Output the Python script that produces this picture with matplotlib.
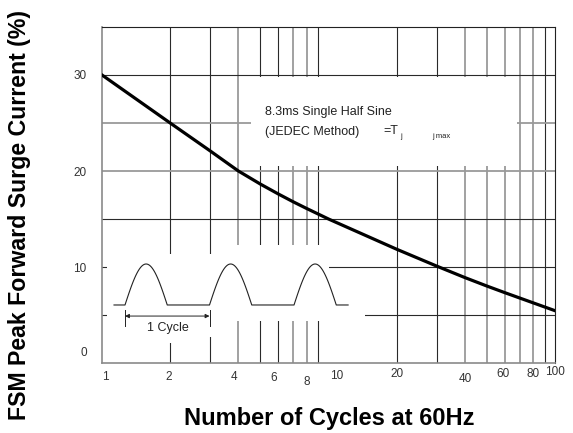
import numpy as np
import matplotlib.pyplot as plt
from matplotlib.patches import Rectangle
from matplotlib.transforms import ScaledTranslation

plt.rcParams['font.family'] = ['Liberation Sans', 'DejaVu Sans']

# curve
cycles = [1, 2, 3, 4, 5, 6, 7, 8, 9, 10, 20, 30, 40, 50, 60, 80, 100]
surge = [30, 25, 22.1, 20, 18.64, 17.61, 16.78, 16.1, 15.52, 15.0,
         11.85, 10.1, 8.9, 8.02, 7.33, 6.27, 5.45]

xticks = [1, 2, 4, 6, 8, 10, 20, 40, 60, 80, 100]
yticks = [0, 10, 20, 30]

vgrid = [2, 3, 4, 5, 6, 7, 8, 9, 20, 30, 40, 50, 60, 70, 80, 90]
vgrid_grey = [4, 7, 8, 40, 50, 60, 70, 80]
hgrid = [5, 10, 15, 20, 25, 30]
hgrid_grey = [20, 25]

W, H = 573, 433
fig = plt.figure(figsize=(W / 100, H / 100), dpi=100)
ax = fig.add_axes([102 / W, 70 / H, 453 / W, 336 / H])
ax.set_xscale('log')
ax.set_xlim(1, 100)
ax.set_ylim(0, 35)

# pixel overlay for the decorations
px = fig.add_axes([0, 0, 1, 1], zorder=5)
px.set_xlim(0, W)
px.set_ylim(H, 0)
px.axis('off')

for v in vgrid:
    grey = v in vgrid_grey
    ax.axvline(v, color='#9a9a9a' if grey else '#2a2a2a', lw=1.3 if grey else 0.8, zorder=1)
for h in hgrid:
    grey = h in hgrid_grey
    ax.axhline(h, color='#9a9a9a' if grey else '#2a2a2a', lw=1.3 if grey else 0.8, zorder=1)

# white areas that break the grid (text box, waveform sketch)
masks = [(251, 77, 517, 166), (107, 254, 327, 321), (230, 245, 329, 321),
         (327, 290, 365, 321), (150, 321, 215, 337), (150, 321, 180, 343)]
for x0, y0, x1, y1 in masks:
    ax.add_patch(Rectangle((x0, y0), x1 - x0, y1 - y0, transform=px.transData,
                           facecolor='white', edgecolor='none', zorder=1.5))

ax.plot(cycles, surge, color='black', lw=2.3, zorder=3, solid_joinstyle='round')

for s in ['top', 'right']:
    ax.spines[s].set_color('#222222')
    ax.spines[s].set_linewidth(0.8)
for s in ['left', 'bottom']:
    ax.spines[s].set_color('#8a8a8a')
    ax.spines[s].set_linewidth(1.2)

ax.set_xticks(xticks)
ax.set_xticklabels([str(t) for t in xticks])
ax.xaxis.set_minor_locator(plt.NullLocator())
ax.set_yticks(yticks)
ax.set_yticklabels([str(t) for t in yticks])
ax.tick_params(length=0, labelsize=8.5, labelcolor='#333333')
ax.tick_params(axis='x', pad=6)
ax.tick_params(axis='y', pad=11)

# small nudges so the tick labels sit like in the scan (pixels, y down)
xoff = [(3, 0), (-1, 0), (-4, 0), (-5, 1), (0, 5), (8, -1), (0, -3),
        (0, 2), (-2, -3), (0, -3), (0, -5)]
for tick, (dx, dy) in zip(ax.xaxis.get_major_ticks(), xoff):
    lab = tick.label1
    lab.set_transform(lab.get_transform() + ScaledTranslation(dx / 100, -dy / 100, fig.dpi_scale_trans))
zlab = ax.yaxis.get_major_ticks()[0].label1
zlab.set_transform(zlab.get_transform() + ScaledTranslation(0, 11 / 100, fig.dpi_scale_trans))

fig.text(329 / W, 1 - 418 / H, 'Number of Cycles at 60Hz', ha='center', va='center',
         fontsize=17, fontweight='bold')
fig.text(20 / W, 1 - 215 / H, 'FSM Peak Forward Surge Current (%)', ha='center', va='center',
         rotation=90, fontsize=16.7, fontweight='bold')

# box text
px.text(265, 112, '8.3ms Single Half Sine', fontsize=9, va='center', color='#222222')
px.text(265, 132, '(JEDEC Method)', fontsize=9, va='center', color='#222222')
px.text(383, 131, '=T', fontsize=9, va='center', color='#222222')
px.text(400, 136, 'j', fontsize=5.5, va='center', color='#222222')
px.text(432, 137, 'j max', fontsize=5.5, va='center', color='#222222')

# waveform sketch, x in cycles
wav = fig.add_axes([107 / W, (H - 340) / H, 258 / W, 90 / H], zorder=4)
wav.set_xlim(-0.213, 2.84)
wav.set_ylim(-0.854, 1.341)
wav.axis('off')
tx, ty = [-0.13], [0.0]
for k in range(3):
    t = np.linspace(0, 0.5, 40)
    tx += list(k + t)
    ty += list(np.sin(2 * np.pi * t))
    tx.append(k + 1.0 if k < 2 else 2.64)
    ty.append(0.0)
wav.plot(tx, ty, color='#222222', lw=0.8)
for x in [0, 1]:
    wav.plot([x, x], [-0.12, -0.51], color='#222222', lw=0.7)
wav.annotate('', xy=(1, -0.27), xytext=(0, -0.27),
             arrowprops=dict(arrowstyle='<|-|>', color='#222222', lw=0.7,
                             mutation_scale=6, shrinkA=0, shrinkB=0))
wav.text(0.51, -0.57, '1 Cycle', ha='center', va='center', fontsize=9, color='#222222')

fig.savefig('out.png', dpi=100)
